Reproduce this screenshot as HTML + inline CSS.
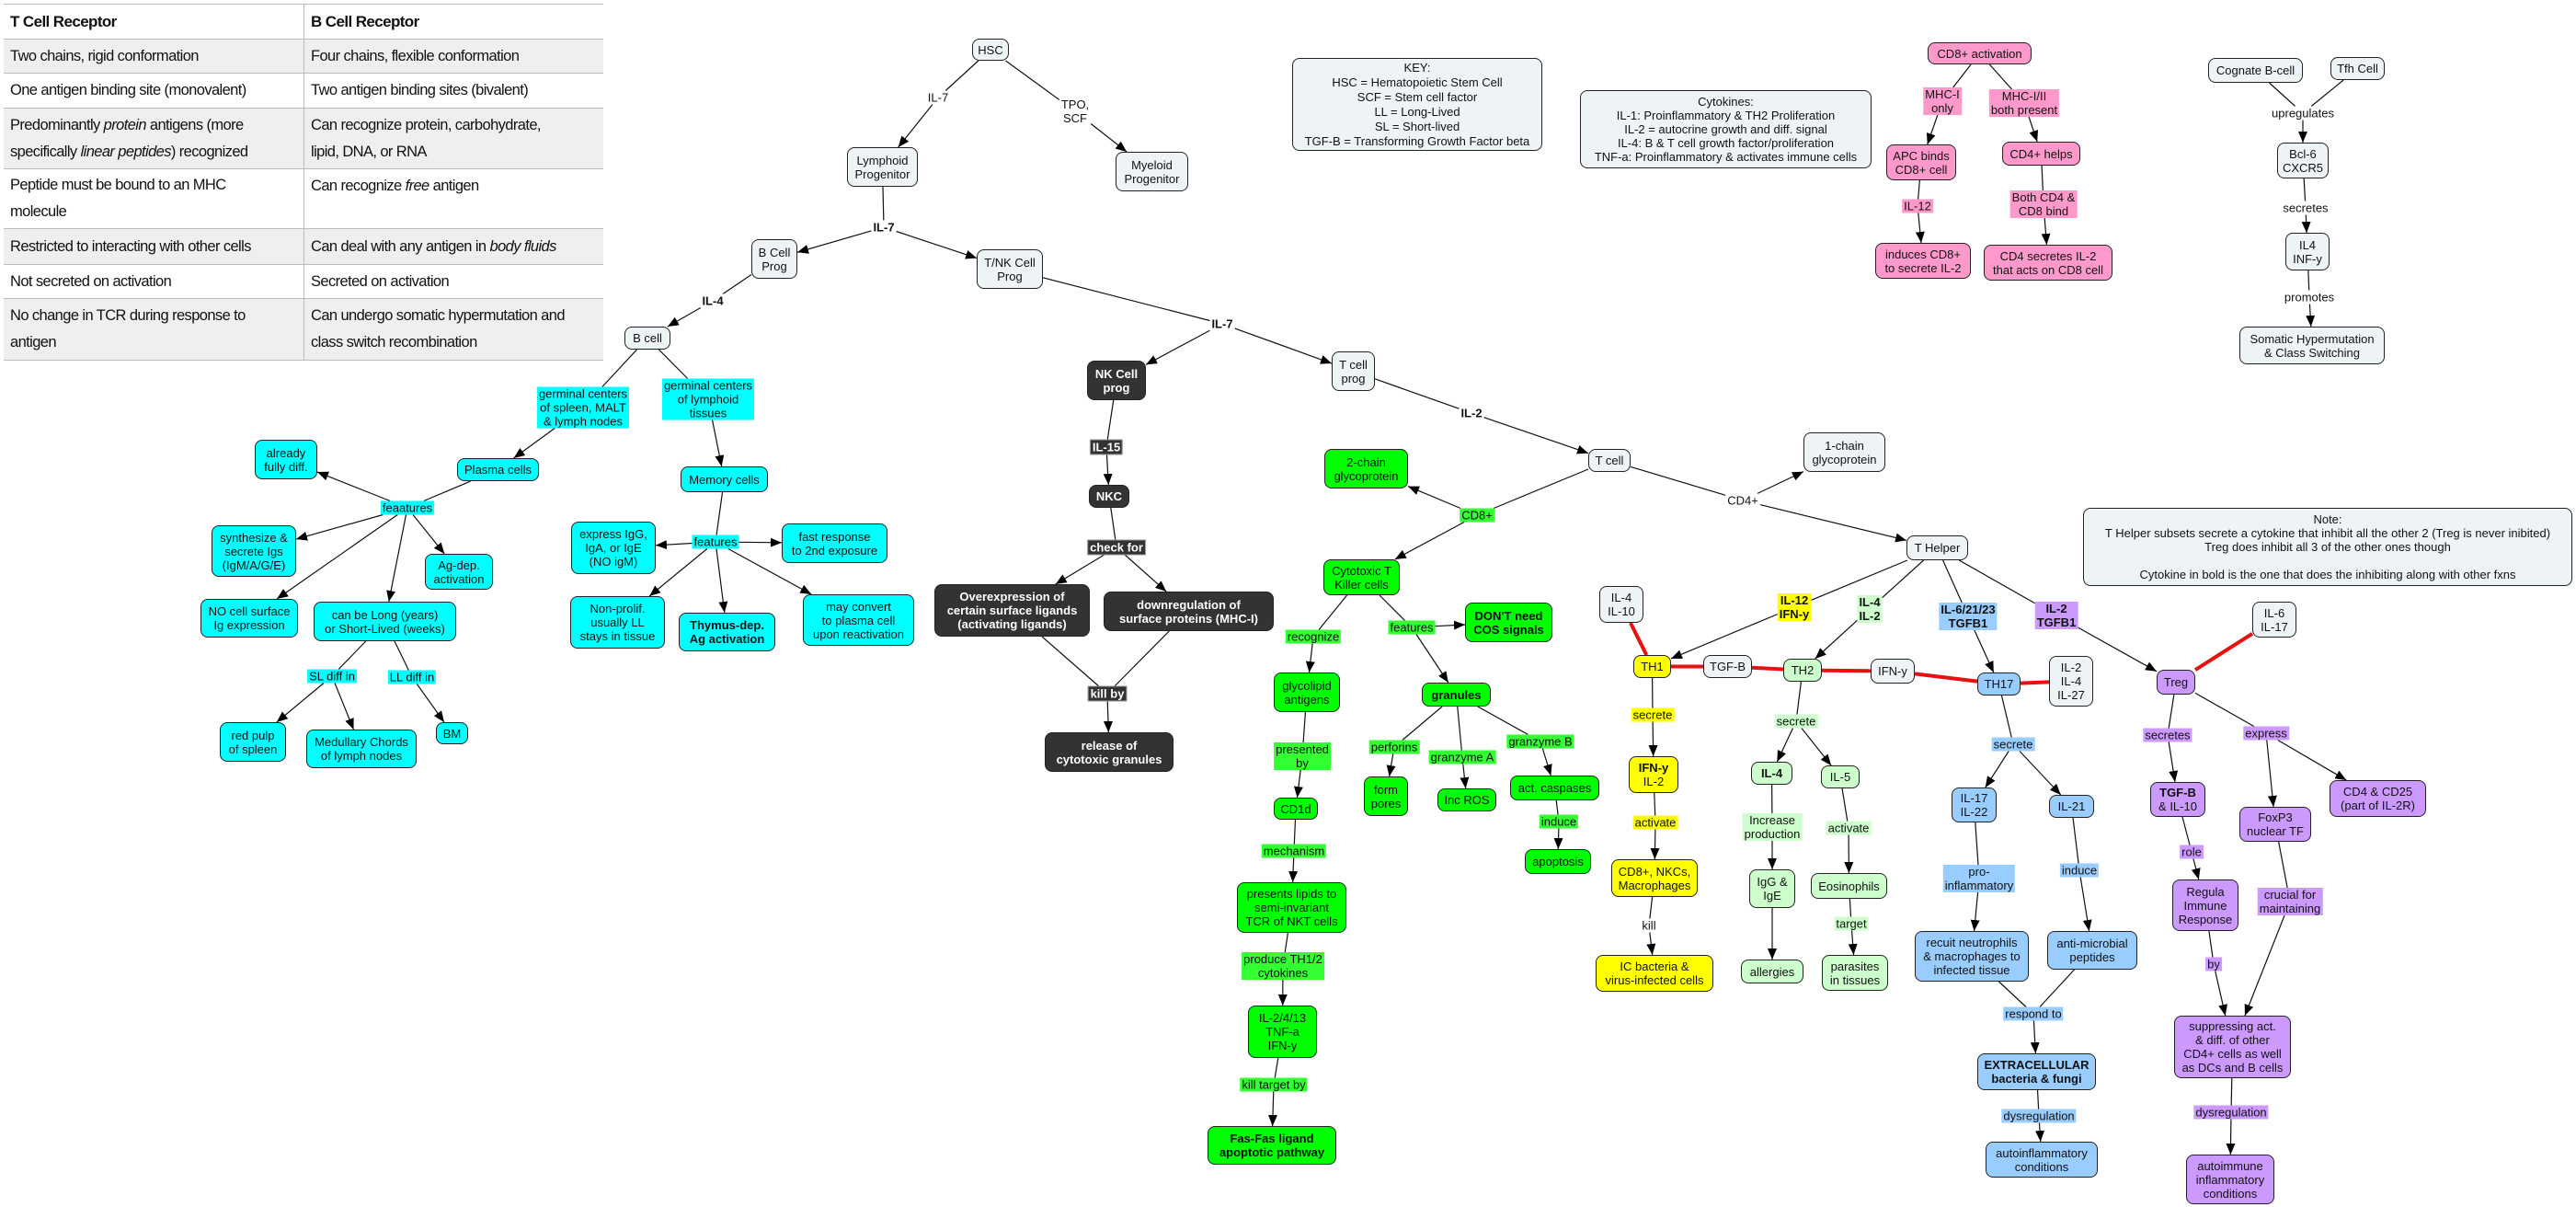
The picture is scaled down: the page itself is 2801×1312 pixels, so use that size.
<!DOCTYPE html>
<html><head><meta charset="utf-8">
<style>
body{margin:0;width:2801px;height:1312px;position:relative;background:#fff;overflow:hidden;font-family:"Liberation Sans",sans-serif;}
.n{position:absolute;box-sizing:border-box;border:1.5px solid #222;border-radius:8px;display:flex;align-items:center;justify-content:center;text-align:center;font:13px/15px "Liberation Sans",sans-serif;color:#111;z-index:2}
.g{background:#eef3f6}.c{background:#00ffff}.gr{background:#00ff00}.dk{background:#333;color:#fff;font-weight:bold}
.y{background:#ffff00}.lg{background:#ccffcc}.b{background:#99ccff}.p{background:#cc99ff}.pk{background:#ff99cc}
.l{position:absolute;transform:translate(-50%,-50%);font:13px/15px "Liberation Sans",sans-serif;padding:0 2px;text-align:center;white-space:nowrap;background:#fff;z-index:2;color:#111}
.lc{background:#00ffff}.lgr{background:#33ff33}.ly{background:#ffff00}.llg{background:#ccffcc}.lb{background:#99ccff}.lp{background:#cc99ff}.lpk{background:#ff99cc}.ldk{background:#333;color:#fff;font-weight:bold;outline:1px solid #999}
.bd{font-weight:bold}
table{position:absolute;left:4px;top:4px;border-collapse:collapse;font:16.5px/29px "Liberation Sans",sans-serif;letter-spacing:-0.6px;color:#111;table-layout:fixed;width:652px}
td{border-top:1.5px solid #bbb;border-bottom:1.5px solid #bbb;padding:0 7px;vertical-align:middle;overflow:hidden;white-space:nowrap}
td+td{border-left:1px solid #bbb}
tr.s td{background:#efefef}
svg{position:absolute;left:0;top:0;z-index:1}
</style></head><body>
<table>
<tr style="height:38px"><td style="width:312px;font-weight:bold;font-size:17px">T Cell Receptor</td><td style="font-weight:bold;font-size:17px">B Cell Receptor</td></tr>
<tr class="s" style="height:37px"><td>Two chains, rigid conformation</td><td>Four chains, flexible conformation</td></tr>
<tr style="height:38px"><td>One antigen binding site (monovalent)</td><td>Two antigen binding sites (bivalent)</td></tr>
<tr class="s" style="height:66px"><td>Predominantly <i>protein</i> antigens (more<br>specifically <i>linear peptides</i>) recognized</td><td>Can recognize protein, carbohydrate,<br>lipid, DNA, or RNA</td></tr>
<tr style="height:65px"><td>Peptide must be bound to an MHC<br>molecule</td><td style="vertical-align:top;padding-top:4px">Can recognize <i>free</i> antigen</td></tr>
<tr class="s" style="height:39px"><td>Restricted to interacting with other cells</td><td>Can deal with any antigen in <i>body fluids</i></td></tr>
<tr style="height:37px"><td>Not secreted on activation</td><td>Secreted on activation</td></tr>
<tr class="s" style="height:67px"><td>No change in TCR during response to<br>antigen</td><td>Can undergo somatic hypermutation and<br>class switch recombination</td></tr>
</table>

<svg id="sv" width="2801" height="1312"><defs><marker id="ar" markerUnits="userSpaceOnUse" markerWidth="12" markerHeight="10" refX="12" refY="5" orient="auto"><path d="M0,0 L12,5 L0,10 z" fill="#000"/></marker></defs></svg>

<!-- gray -->
<div class="n g" id="hsc" style="left:1057px;top:42px;width:40px;height:24px">HSC</div>
<div class="n g" id="lymph" style="left:921px;top:160px;width:77px;height:43px">Lymphoid<br>Progenitor</div>
<div class="n g" id="myel" style="left:1213px;top:165px;width:79px;height:43px">Myeloid<br>Progenitor</div>
<div class="n g" id="bprog" style="left:817px;top:260px;width:50px;height:43px">B Cell<br>Prog</div>
<div class="n g" id="tnk" style="left:1062px;top:271px;width:72px;height:43px">T/NK Cell<br>Prog</div>
<div class="n g" id="bcell" style="left:679px;top:355px;width:50px;height:25px">B cell</div>
<div class="n g" id="tprog" style="left:1448px;top:382px;width:47px;height:43px">T cell<br>prog</div>
<div class="n g" id="tcell" style="left:1727px;top:488px;width:46px;height:25px">T cell</div>
<div class="n g" id="onechain" style="left:1961px;top:470px;width:89px;height:43px">1-chain<br>glycoprotein</div>
<div class="n g" id="thelper" style="left:2073px;top:582px;width:67px;height:27px">T Helper</div>
<div class="n g" id="il410" style="left:1739px;top:637px;width:48px;height:40px">IL-4<br>IL-10</div>
<div class="n g" id="tgfb" style="left:1852px;top:712px;width:53px;height:25px">TGF-B</div>
<div class="n g" id="ifny" style="left:2034px;top:716px;width:48px;height:27px">IFN-y</div>
<div class="n g" id="il2427" style="left:2228px;top:713px;width:48px;height:55px">IL-2<br>IL-4<br>IL-27</div>
<div class="n g" id="il617" style="left:2449px;top:654px;width:48px;height:39px">IL-6<br>IL-17</div>
<div class="n g" id="key" style="left:1405px;top:63px;width:272px;height:101px;line-height:16px">KEY:<br>HSC = Hematopoietic Stem Cell<br>SCF = Stem cell factor<br>LL = Long-Lived<br>SL = Short-lived<br>TGF-B = Transforming Growth Factor beta</div>
<div class="n g" id="cyt" style="left:1718px;top:98px;width:317px;height:85px">Cytokines:<br>IL-1: Proinflammatory &amp; TH2 Proliferation<br>IL-2 = autocrine growth and diff. signal<br>IL-4: B &amp; T cell growth factor/proliferation<br>TNF-a: Proinflammatory &amp; activates immune cells</div>
<div class="n g" id="note" style="left:2265px;top:552px;width:532px;height:85px">Note:<br>T Helper subsets secrete a cytokine that inhibit all the other 2 (Treg is never inibited)<br>Treg does inhibit all 3 of the other ones though<br><br>Cytokine in bold is the one that does the inhibiting along with other fxns</div>
<div class="n g" id="cognate" style="left:2401px;top:63px;width:103px;height:27px">Cognate B-cell</div>
<div class="n g" id="tfh" style="left:2534px;top:62px;width:59px;height:25px">Tfh Cell</div>
<div class="n g" id="bcl6" style="left:2476px;top:155px;width:56px;height:39px">Bcl-6<br>CXCR5</div>
<div class="n g" id="il4inf" style="left:2485px;top:253px;width:48px;height:41px">IL4<br>INF-y</div>
<div class="n g" id="somatic" style="left:2435px;top:355px;width:158px;height:41px">Somatic Hypermutation<br>&amp; Class Switching</div>

<!-- cyan -->
<div class="l lc" id="gcs" style="left:634px;top:443px">germinal centers<br>of spleen, MALT<br>&amp; lymph nodes</div>
<div class="l lc" id="gcl" style="left:770px;top:434px">germinal centers<br>of lymphoid<br>tissues</div>
<div class="n c" id="plasma" style="left:497px;top:498px;width:89px;height:25px">Plasma cells</div>
<div class="n c" id="already" style="left:277px;top:478px;width:68px;height:43px">already<br>fully diff.</div>
<div class="l lc" id="feat1" style="left:443px;top:552px">feaatures</div>
<div class="n c" id="synth" style="left:230px;top:571px;width:92px;height:56px">synthesize &amp;<br>secrete Igs<br>(IgM/A/G/E)</div>
<div class="n c" id="agdep" style="left:462px;top:602px;width:74px;height:39px">Ag-dep.<br>activation</div>
<div class="n c" id="nocell" style="left:218px;top:651px;width:106px;height:42px">NO cell surface<br>Ig expression</div>
<div class="n c" id="canbe" style="left:341px;top:654px;width:155px;height:43px">can be Long (years)<br>or Short-Lived (weeks)</div>
<div class="l lc" id="sl" style="left:361px;top:735px">SL diff in</div>
<div class="l lc" id="ll" style="left:448px;top:736px">LL diff in</div>
<div class="n c" id="redpulp" style="left:239px;top:785px;width:72px;height:43px">red pulp<br>of spleen</div>
<div class="n c" id="medul" style="left:333px;top:793px;width:120px;height:42px">Medullary Chords<br>of lymph nodes</div>
<div class="n c" id="bm" style="left:474px;top:785px;width:35px;height:24px">BM</div>
<div class="n c" id="memory" style="left:740px;top:507px;width:95px;height:28px">Memory cells</div>
<div class="l lc" id="feat2" style="left:778px;top:589px">features</div>
<div class="n c" id="express" style="left:621px;top:567px;width:92px;height:57px">express IgG,<br>IgA, or IgE<br>(NO igM)</div>
<div class="n c" id="fast" style="left:850px;top:569px;width:115px;height:43px">fast response<br>to 2nd exposure</div>
<div class="n c" id="nonprol" style="left:620px;top:648px;width:103px;height:57px">Non-prolif.<br>usually LL<br>stays in tissue</div>
<div class="n c bd" id="thymus" style="left:738px;top:666px;width:105px;height:42px">Thymus-dep.<br>Ag activation</div>
<div class="n c" id="mayconv" style="left:873px;top:646px;width:121px;height:56px">may convert<br>to plasma cell<br>upon reactivation</div>

<!-- dark -->
<div class="n dk" id="nkprog" style="left:1182px;top:392px;width:64px;height:43px">NK Cell<br>prog</div>
<div class="l ldk" id="il15" style="left:1203px;top:486px">IL-15</div>
<div class="n dk" id="nkc" style="left:1184px;top:527px;width:44px;height:25px">NKC</div>
<div class="l ldk" id="checkfor" style="left:1214px;top:595px">check for</div>
<div class="n dk" id="overexp" style="left:1016px;top:635px;width:169px;height:57px">Overexpression of<br>certain surface ligands<br>(activating ligands)</div>
<div class="n dk" id="downreg" style="left:1200px;top:643px;width:185px;height:43px">downregulation of<br>surface proteins (MHC-I)</div>
<div class="l ldk" id="killby" style="left:1204px;top:754px">kill by</div>
<div class="n dk" id="release" style="left:1136px;top:796px;width:140px;height:43px">release of<br>cytotoxic granules</div>

<!-- green -->
<div class="n gr" id="twochain" style="left:1440px;top:488px;width:91px;height:43px">2-chain<br>glycoprotein</div>
<div class="l lgr" id="cd8" style="left:1606px;top:560px">CD8+</div>
<div class="n gr" id="ctl" style="left:1439px;top:608px;width:83px;height:39px">Cytotoxic T<br>Killer cells</div>
<div class="l lgr" id="recog" style="left:1428px;top:692px">recognize</div>
<div class="l lgr" id="feat3" style="left:1535px;top:682px">features</div>
<div class="n gr bd" id="dont" style="left:1593px;top:655px;width:95px;height:43px">DON'T need<br>COS signals</div>
<div class="n gr" id="glyco" style="left:1385px;top:731px;width:72px;height:43px">glycolipid<br>antigens</div>
<div class="n gr bd" id="granules" style="left:1546px;top:742px;width:75px;height:26px">granules</div>
<div class="l lgr" id="presented" style="left:1416px;top:822px">presented<br>by</div>
<div class="l lgr" id="perf" style="left:1516px;top:812px">perforins</div>
<div class="l lgr" id="gza" style="left:1590px;top:823px">granzyme A</div>
<div class="l lgr" id="gzb" style="left:1675px;top:806px">granzyme B</div>
<div class="n gr" id="form" style="left:1483px;top:844px;width:48px;height:43px">form<br>pores</div>
<div class="n gr" id="incros" style="left:1563px;top:857px;width:64px;height:25px">Inc ROS</div>
<div class="n gr" id="actcasp" style="left:1642px;top:843px;width:97px;height:27px">act. caspases</div>
<div class="n gr" id="cd1d" style="left:1385px;top:867px;width:48px;height:24px">CD1d</div>
<div class="l lgr" id="induce" style="left:1695px;top:893px">induce</div>
<div class="n gr" id="apop" style="left:1658px;top:923px;width:72px;height:27px">apoptosis</div>
<div class="l lgr" id="mech" style="left:1407px;top:925px">mechanism</div>
<div class="n gr" id="presents" style="left:1345px;top:959px;width:119px;height:55px">presents lipids to<br>semi-invariant<br>TCR of NKT cells</div>
<div class="l lgr" id="produce" style="left:1395px;top:1050px">produce TH1/2<br>cytokines</div>
<div class="n gr" id="il2413" style="left:1357px;top:1093px;width:75px;height:57px">IL-2/4/13<br>TNF-a<br>IFN-y</div>
<div class="l lgr" id="killt" style="left:1385px;top:1179px">kill target by</div>
<div class="n gr bd" id="fas" style="left:1313px;top:1224px;width:140px;height:42px">Fas-Fas ligand<br>apoptotic pathway</div>

<!-- yellow -->
<div class="l ly bd" id="il12ifn" style="left:1951px;top:660px">IL-12<br>IFN-y</div>
<div class="n y" id="th1" style="left:1776px;top:712px;width:41px;height:25px">TH1</div>
<div class="l ly" id="secy" style="left:1797px;top:777px">secrete</div>
<div class="n y" id="ifnil2" style="left:1771px;top:822px;width:54px;height:40px"><span><b>IFN-y</b><br>IL-2</span></div>
<div class="l ly" id="acty" style="left:1800px;top:894px">activate</div>
<div class="n y" id="cd8nk" style="left:1752px;top:934px;width:94px;height:41px">CD8+, NKCs,<br>Macrophages</div>
<div class="l" id="kill" style="left:1793px;top:1006px">kill</div>
<div class="n y" id="icbact" style="left:1735px;top:1038px;width:128px;height:40px">IC bacteria &amp;<br>virus-infected cells</div>

<!-- light green -->
<div class="l llg bd" id="il4il2" style="left:2033px;top:662px">IL-4<br>IL-2</div>
<div class="n lg" id="th2" style="left:1939px;top:716px;width:42px;height:25px">TH2</div>
<div class="l llg" id="secg" style="left:1953px;top:784px">secrete</div>
<div class="n lg bd" id="il4n" style="left:1904px;top:828px;width:45px;height:25px">IL-4</div>
<div class="n lg" id="il5" style="left:1980px;top:832px;width:42px;height:25px">IL-5</div>
<div class="l llg" id="increase" style="left:1927px;top:899px">Increase<br>production</div>
<div class="n lg" id="igg" style="left:1902px;top:945px;width:50px;height:42px">IgG &amp;<br>IgE</div>
<div class="n lg" id="allergies" style="left:1893px;top:1043px;width:68px;height:26px">allergies</div>
<div class="l llg" id="actg" style="left:2010px;top:900px">activate</div>
<div class="n lg" id="eos" style="left:1969px;top:949px;width:83px;height:28px">Eosinophils</div>
<div class="l llg" id="target" style="left:2013px;top:1004px">target</div>
<div class="n lg" id="parasites" style="left:1981px;top:1038px;width:72px;height:39px">parasites<br>in tissues</div>

<!-- blue -->
<div class="l lb bd" id="il6" style="left:2140px;top:670px">IL-6/21/23<br>TGFB1</div>
<div class="n b" id="th17" style="left:2150px;top:731px;width:47px;height:25px">TH17</div>
<div class="l lb" id="secb" style="left:2189px;top:809px">secrete</div>
<div class="n b" id="il1722" style="left:2122px;top:856px;width:49px;height:38px">IL-17<br>IL-22</div>
<div class="n b" id="il21" style="left:2228px;top:864px;width:49px;height:25px">IL-21</div>
<div class="l lb" id="proinf" style="left:2152px;top:955px">pro-<br>inflammatory</div>
<div class="l lb" id="induceb" style="left:2261px;top:946px">induce</div>
<div class="n b" id="recruit" style="left:2082px;top:1012px;width:124px;height:55px">recuit neutrophils<br>&amp; macrophages to<br>infected tissue</div>
<div class="n b" id="antimic" style="left:2226px;top:1012px;width:98px;height:42px">anti-microbial<br>peptides</div>
<div class="l lb" id="respond" style="left:2211px;top:1102px">respond to</div>
<div class="n b bd" id="extra" style="left:2150px;top:1145px;width:129px;height:40px">EXTRACELLULAR<br>bacteria &amp; fungi</div>
<div class="l lb" id="dysb" style="left:2217px;top:1213px">dysregulation</div>
<div class="n b" id="autoinf" style="left:2159px;top:1241px;width:122px;height:39px">autoinflammatory<br>conditions</div>

<!-- purple -->
<div class="l lp bd" id="il2tgf" style="left:2236px;top:669px">IL-2<br>TGFB1</div>
<div class="n p" id="treg" style="left:2345px;top:728px;width:42px;height:27px">Treg</div>
<div class="l lp" id="secp" style="left:2357px;top:799px">secretes</div>
<div class="l lp" id="expp" style="left:2464px;top:797px">express</div>
<div class="n p" id="tgfb10" style="left:2338px;top:850px;width:60px;height:38px"><span><b>TGF-B</b><br>&amp; IL-10</span></div>
<div class="n p" id="foxp3" style="left:2435px;top:877px;width:78px;height:38px">FoxP3<br>nuclear TF</div>
<div class="n p" id="cd425" style="left:2533px;top:848px;width:105px;height:40px">CD4 &amp; CD25<br>(part of IL-2R)</div>
<div class="l lp" id="role" style="left:2383px;top:926px">role</div>
<div class="n p" id="regula" style="left:2362px;top:956px;width:72px;height:56px">Regula<br>Immune<br>Response</div>
<div class="l lp" id="crucial" style="left:2490px;top:980px">crucial for<br>maintaining</div>
<div class="l lp" id="by" style="left:2407px;top:1048px">by</div>
<div class="n p" id="suppress" style="left:2364px;top:1104px;width:127px;height:68px">suppressing act.<br>&amp; diff. of other<br>CD4+ cells as well<br>as DCs and B cells</div>
<div class="l lp" id="dysp" style="left:2426px;top:1209px">dysregulation</div>
<div class="n p" id="autoimm" style="left:2377px;top:1255px;width:96px;height:54px">autoimmune<br>inflammatory<br>conditions</div>

<!-- pink -->
<div class="n pk" id="cd8act" style="left:2096px;top:46px;width:113px;height:24px">CD8+ activation</div>
<div class="l lpk" id="mhci" style="left:2112px;top:110px">MHC-I<br>only</div>
<div class="l lpk" id="mhcii" style="left:2201px;top:112px">MHC-I/II<br>both present</div>
<div class="n pk" id="apc" style="left:2051px;top:157px;width:76px;height:39px">APC binds<br>CD8+ cell</div>
<div class="n pk" id="cd4h" style="left:2177px;top:154px;width:85px;height:26px">CD4+ helps</div>
<div class="l lpk" id="il12" style="left:2085px;top:224px">IL-12</div>
<div class="l lpk" id="both" style="left:2222px;top:222px">Both CD4 &amp;<br>CD8 bind</div>
<div class="n pk" id="induces" style="left:2039px;top:264px;width:104px;height:39px">induces CD8+<br>to secrete IL-2</div>
<div class="n pk" id="cd4sec" style="left:2157px;top:266px;width:140px;height:39px">CD4 secretes IL-2<br>that acts on CD8 cell</div>

<!-- white labels -->
<div class="l" id="l7a" style="left:1020px;top:106px">IL-7</div>
<div class="l" id="tpo" style="left:1169px;top:121px">TPO,<br>SCF</div>
<div class="l bd" id="l7b" style="left:961px;top:247px">IL-7</div>
<div class="l bd" id="l4" style="left:775px;top:327px">IL-4</div>
<div class="l bd" id="l7c" style="left:1329px;top:352px">IL-7</div>
<div class="l bd" id="l2" style="left:1600px;top:449px">IL-2</div>
<div class="l" id="cd4" style="left:1895px;top:544px">CD4+</div>
<div class="l" id="upreg" style="left:2504px;top:123px">upregulates</div>
<div class="l" id="secr" style="left:2507px;top:226px">secretes</div>
<div class="l" id="prom" style="left:2511px;top:323px">promotes</div>

<script>
var E=[
["hsc","l7a"],["l7a","lymph",1],["hsc","tpo"],["tpo","myel",1],
["lymph","l7b"],["l7b","bprog",1],["l7b","tnk",1],
["bprog","l4"],["l4","bcell",1],["tnk","l7c"],["l7c","nkprog",1],["l7c","tprog",1],
["bcell","gcs"],["gcs","plasma",1],["bcell","gcl"],["gcl","memory",1],
["plasma","feat1"],["feat1","already",1],["feat1","synth",1],["feat1","nocell",1],["feat1","canbe",1],["feat1","agdep",1],
["canbe","sl"],["sl","redpulp",1],["sl","medul",1],["canbe","ll"],["ll","bm",1],
["memory","feat2"],["feat2","express",1],["feat2","fast",1],["feat2","nonprol",1],["feat2","thymus",1],["feat2","mayconv",1],
["nkprog","il15"],["il15","nkc",1],["nkc","checkfor"],["checkfor","overexp",1],["checkfor","downreg",1],
["overexp","killby"],["downreg","killby"],["killby","release",1],
["tprog","l2"],["l2","tcell",1],["tcell","cd8"],["cd8","twochain",1],["cd8","ctl",1],
["tcell","cd4"],["cd4","onechain",1],["cd4","thelper",1],
["ctl","recog"],["recog","glyco",1],["glyco","presented"],["presented","cd1d",1],["cd1d","mech"],["mech","presents",1],
["presents","produce"],["produce","il2413",1],["il2413","killt"],["killt","fas",1],
["ctl","feat3"],["feat3","dont",1],["feat3","granules",1],
["granules","perf"],["perf","form",1],["granules","gza"],["gza","incros",1],["granules","gzb"],["gzb","actcasp",1],["actcasp","induce"],["induce","apop",1],
["thelper","il12ifn"],["il12ifn","th1",1],["thelper","il4il2"],["il4il2","th2",1],["thelper","il6"],["il6","th17",1],["thelper","il2tgf"],["il2tgf","treg",1],
["il410","th1",2],["th1","tgfb",2],["tgfb","th2",2],["th2","ifny",2],["ifny","th17",2],["th17","il2427",2],["il617","treg",2],
["th1","secy"],["secy","ifnil2",1],["ifnil2","acty"],["acty","cd8nk",1],["cd8nk","kill"],["kill","icbact",1],
["th2","secg"],["secg","il4n",1],["secg","il5",1],["il4n","increase"],["increase","igg",1],["igg","allergies",1],
["il5","actg"],["actg","eos",1],["eos","target"],["target","parasites",1],
["th17","secb"],["secb","il1722",1],["secb","il21",1],["il1722","proinf"],["proinf","recruit",1],["il21","induceb"],["induceb","antimic",1],
["recruit","respond"],["antimic","respond"],["respond","extra",1],["extra","dysb"],["dysb","autoinf",1],
["treg","secp"],["secp","tgfb10",1],["treg","expp"],["expp","foxp3",1],["expp","cd425",1],
["tgfb10","role"],["role","regula",1],["regula","by"],["by","suppress",1],["foxp3","crucial"],["crucial","suppress",1],["suppress","dysp"],["dysp","autoimm",1],
["cd8act","mhci"],["mhci","apc",1],["cd8act","mhcii"],["mhcii","cd4h",1],["apc","il12"],["il12","induces",1],["cd4h","both"],["both","cd4sec",1],
["cognate","upreg"],["tfh","upreg"],["upreg","bcl6",1],["bcl6","secr"],["secr","il4inf",1],["il4inf","prom"],["prom","somatic",1]
];
var sv=document.getElementById('sv'),NS="http://www.w3.org/2000/svg";
function R(id){var r=document.getElementById(id).getBoundingClientRect();return {x:r.left+r.width/2,y:r.top+r.height/2,w:r.width/2,h:r.height/2};}
function clip(r,dx,dy){var t=Math.min(dx?r.w/Math.abs(dx):1e9,dy?r.h/Math.abs(dy):1e9);return [r.x+dx*t,r.y+dy*t];}
E.forEach(function(e){var a=R(e[0]),b=R(e[1]);var dx=b.x-a.x,dy=b.y-a.y;
var p=clip(a,dx,dy),q=clip(b,-dx,-dy);var l=document.createElementNS(NS,'line');
l.setAttribute('x1',p[0]);l.setAttribute('y1',p[1]);l.setAttribute('x2',q[0]);l.setAttribute('y2',q[1]);
if(e[2]==2){l.setAttribute('stroke','#e81010');l.setAttribute('stroke-width','4');}
else{l.setAttribute('stroke','#111');l.setAttribute('stroke-width','1.2');if(e[2]==1)l.setAttribute('marker-end','url(#ar)');}
sv.appendChild(l);});
</script>
</body></html>
